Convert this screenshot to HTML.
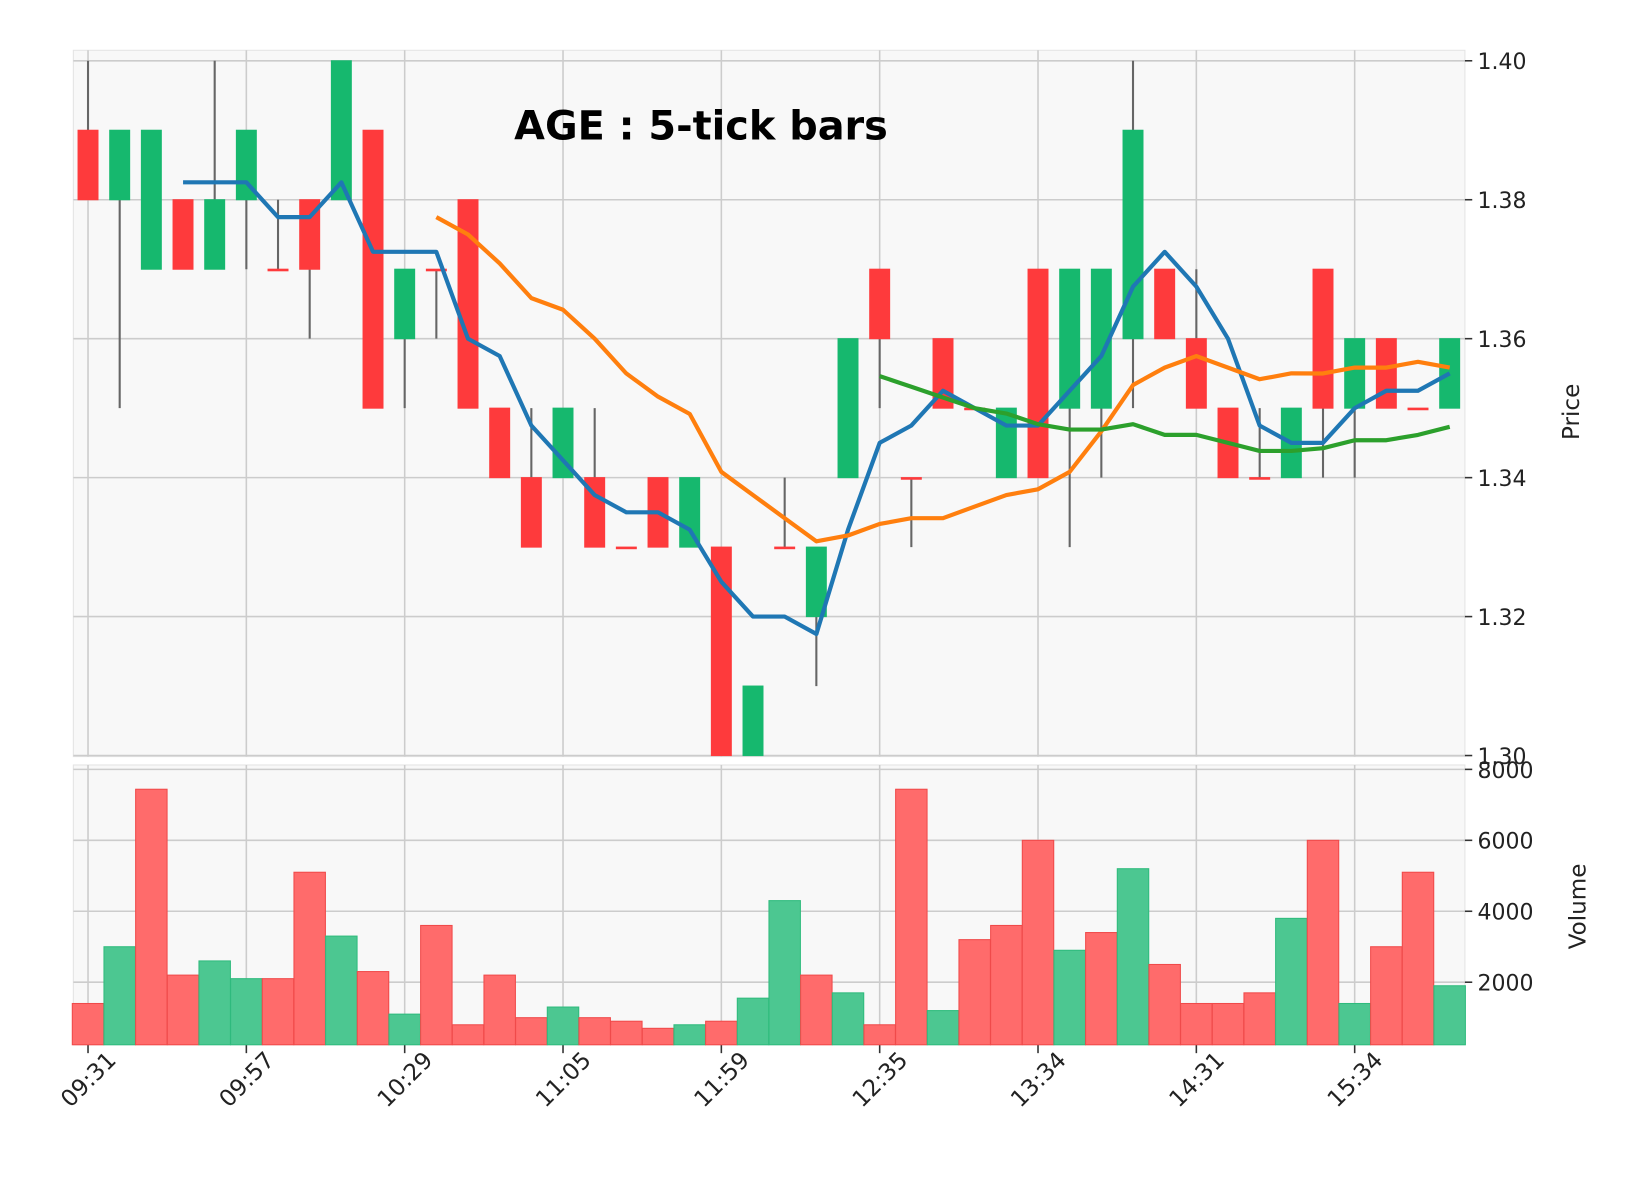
<!DOCTYPE html>
<html><head><meta charset="utf-8">
<style>
body{margin:0;background:#fff;}
svg{display:block;}
svg text{font-family:"DejaVu Sans","Liberation Sans",sans-serif;}
</style></head>
<body>
<svg id="chart" width="1642" height="1192" viewBox="0 0 1567 1137.5" preserveAspectRatio="none" xmlns="http://www.w3.org/2000/svg">
<rect x="0" y="0" width="1567" height="1138" fill="#ffffff"/>
<g id="g"></g>
</svg>
<script>
const opens  = [1.39,1.38,1.37,1.38,1.37,1.38,1.37,1.38,1.38,1.39,1.36,1.37,1.38,1.35,1.34,1.34,1.34,1.33,1.34,1.33,1.33,1.30,1.33,1.32,1.34,1.37,1.34,1.36,1.35,1.34,1.37,1.35,1.35,1.36,1.37,1.36,1.35,1.34,1.34,1.37,1.35,1.36,1.35,1.35];
const highs  = [1.40,1.39,1.39,1.38,1.40,1.39,1.38,1.38,1.40,1.39,1.37,1.37,1.38,1.35,1.35,1.35,1.35,1.33,1.34,1.34,1.33,1.31,1.34,1.33,1.36,1.37,1.34,1.36,1.35,1.35,1.37,1.37,1.37,1.40,1.37,1.37,1.35,1.35,1.35,1.37,1.36,1.36,1.35,1.36];
const lows   = [1.38,1.35,1.37,1.37,1.37,1.37,1.37,1.36,1.38,1.35,1.35,1.36,1.35,1.34,1.33,1.34,1.33,1.33,1.33,1.33,1.30,1.30,1.33,1.31,1.34,1.35,1.33,1.35,1.35,1.34,1.34,1.33,1.34,1.35,1.36,1.35,1.34,1.34,1.34,1.34,1.34,1.35,1.35,1.35];
const closes = [1.38,1.39,1.39,1.37,1.38,1.39,1.37,1.37,1.40,1.35,1.37,1.37,1.35,1.34,1.33,1.35,1.33,1.33,1.33,1.34,1.30,1.31,1.33,1.33,1.36,1.36,1.34,1.35,1.35,1.35,1.34,1.37,1.37,1.39,1.36,1.35,1.34,1.34,1.35,1.35,1.36,1.35,1.35,1.36];
const volumes = [1400,3000,7440,2200,2600,2100,2100,5100,3300,2300,1100,3600,800,2200,1000,1300,1000,900,700,800,900,1550,4300,2200,1700,800,7440,1200,3200,3600,6000,2900,3400,5200,2500,1400,1400,1700,3800,6000,1400,3000,5100,1900];
const xTickIdx = [0,5,10,15,20,25,30,35,40];
const xTickLabels = ["09:31","09:57","10:29","11:05","11:59","12:35","13:34","14:31","15:34"];
const priceTicks = [1.30,1.32,1.34,1.36,1.38,1.40];
const volTicks = [2000,4000,6000,8000];
const maWindows = [4,12,26];
const maColors = ["#1f77b4","#ff7f0e","#2ca02c"];

const NS="http://www.w3.org/2000/svg";
const g=document.getElementById('g');
function el(t,a,txt){const e=document.createElementNS(NS,t);for(const k in a)e.setAttribute(k,a[k]);if(txt!==undefined)e.textContent=txt;g.appendChild(e);return e;}
const L=70,R=1398,PT=48,PB=722,VT=730,VB=997;
const xs=i=>84+i*30.22;
const yp=p=>58+(1.40-p)*6630;
const yv=v=>1005-v*0.03385;

let e;
e=el('rect',{x:L,y:PT,width:R-L,height:PB-PT,fill:'#f8f8f8',stroke:'#e4e4e4'});


e=el('rect',{x:L,y:VT,width:R-L,height:VB-VT,fill:'#f8f8f8',stroke:'#e4e4e4'});



xTickIdx.forEach((ix,k)=>{
  const x=xs(ix);
  el('line',{x1:x,y1:PT,x2:x,y2:PB,stroke:'#cccccc','stroke-width':1.5});
  el('line',{x1:x,y1:VT,x2:x,y2:VB,stroke:'#cccccc','stroke-width':1.5});
  el('line',{x1:x,y1:VB,x2:x,y2:VB+8,stroke:'#333','stroke-width':1.5});
  e=el('text',{x:x+28,y:VB+16,'font-size':22,fill:'#222','text-anchor':'end',transform:`rotate(-45 ${x+28} ${VB+16})`},xTickLabels[k]);
  
  
});
priceTicks.forEach(p=>{
  const y=yp(p);
  el('line',{x1:L,y1:y,x2:R,y2:y,stroke:'#cccccc','stroke-width':1.5});
  el('line',{x1:R,y1:y,x2:R+7,y2:y,stroke:'#333','stroke-width':1.5});
  e=el('text',{x:R+12,y:y+8,'font-size':21,fill:'#222'},p.toFixed(2));
  
  
});
volTicks.forEach(v=>{
  const y=yv(v);
  el('line',{x1:L,y1:y,x2:R,y2:y,stroke:'#cccccc','stroke-width':1.5});
  el('line',{x1:R,y1:y,x2:R+7,y2:y,stroke:'#333','stroke-width':1.5});
  e=el('text',{x:R+12,y:y+8,'font-size':21,fill:'#222'},String(v));
  
  
});

volumes.forEach((v,i)=>{
  const up=i>0&&closes[i]>closes[i-1];
  const y=yv(v);
  e=el('rect',{x:xs(i)-15,y:y,width:30,height:VB-y,fill:up?'#4cc791':'#ff6b6b',stroke:up?'#2fbb7d':'#f04a4a','stroke-width':1});
  
  
});

opens.forEach((o,i)=>{
  const c=closes[i],up=c>o,x=xs(i);
  e=el('line',{x1:x,y1:yp(highs[i]),x2:x,y2:yp(lows[i]),stroke:'#666','stroke-width':2});
  
  
  const top=yp(Math.max(o,c)),bot=yp(Math.min(o,c));
  e=el('rect',{x:x-9.5,y:top,width:19,height:Math.max(bot-top,1.5),fill:up?'#16b86e':'#fe3a3c',stroke:up?'#16b86e':'#fe3a3c','stroke-width':1});
  
  
});

maWindows.forEach((w,k)=>{
  let pts=[];
  for(let i=w-1;i<closes.length;i++){
    let s=0;for(let j=i-w+1;j<=i;j++)s+=closes[j];
    pts.push(xs(i).toFixed(1)+','+yp(s/w).toFixed(1));
  }
  e=el('polyline',{points:pts.join(' '),fill:'none',stroke:maColors[k],'stroke-width':4,'stroke-linejoin':'round'});
  
  
});

e=el('text',{x:669,y:133,'font-size':38,'font-weight':'bold',fill:'#000','text-anchor':'middle'},'AGE : 5-tick bars');


e=el('text',{x:1507,y:393,'font-size':22,fill:'#222','text-anchor':'middle',transform:'rotate(-90 1507 393)'},'Price');


e=el('text',{x:1513,y:865,'font-size':22,fill:'#222','text-anchor':'middle',transform:'rotate(-90 1513 865)'},'Volume');


</script>
</body></html>
